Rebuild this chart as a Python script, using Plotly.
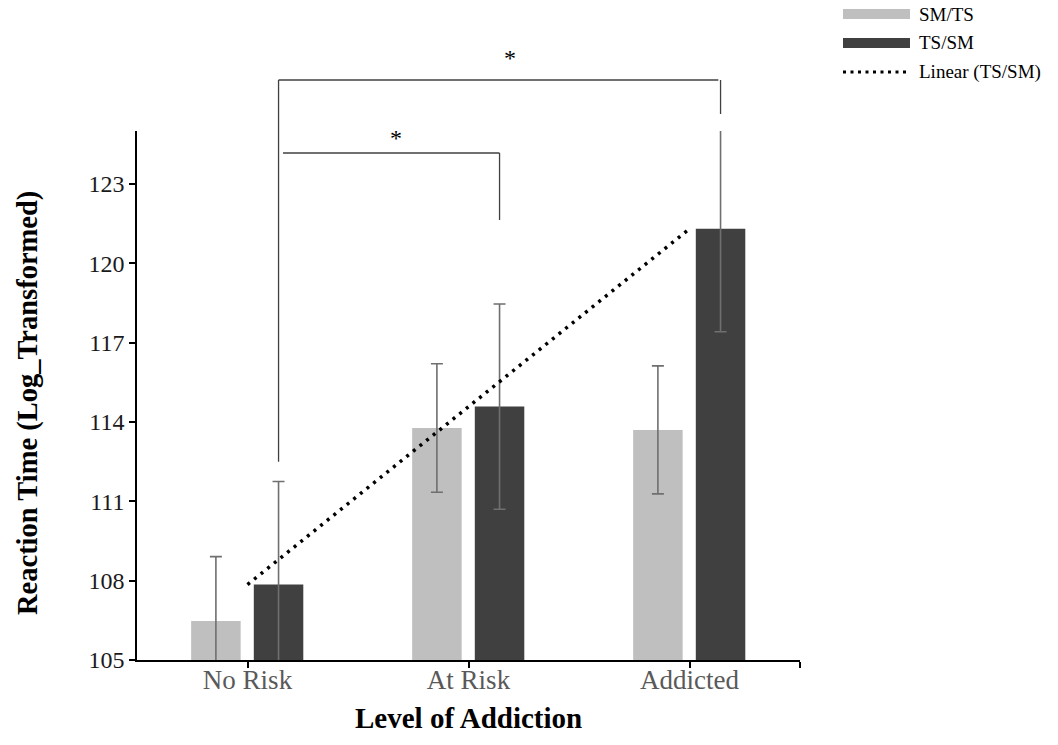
import numpy as np
import plotly.graph_objects as go

# ---------------- data ----------------
categories = ["No Risk", "At Risk", "Addicted"]
sm_ts = [106.47, 113.77, 113.70]
ts_sm = [107.85, 114.58, 121.30]
sm_ts_err = [2.44, 2.43, 2.42]
ts_sm_err = [3.90, 3.88, 3.89]
y_ticks = [105, 108, 111, 114, 117, 120, 123]
series_names = ["SM/TS", "TS/SM", "Linear (TS/SM)"]

# ---------------- geometry ----------------
W, H = 1058, 745
L, R, T, B = 137, 800, 131, 660
Y0, Y1 = 105, 125

def px_x(px):
    return (px - L) / (R - L)

def px_y(py):
    return (B - py) / (B - T)

def val_y(v):
    return (v - Y0) / (Y1 - Y0)

FONT = "Liberation Serif, Times New Roman, serif"
LIGHT = "#bfbfbf"
DARK = "#404040"
ERR = "#6f6f6f"

bar_w = 0.224
off_sm = -0.255
off_ts = 0.0285
ts_center = off_ts + bar_w / 2

xpos = list(range(len(categories)))

fig = go.Figure()
fig.add_trace(go.Bar(
    x=xpos, y=[v - Y0 for v in sm_ts], base=Y0, name=series_names[0],
    width=bar_w, offset=off_sm, marker=dict(color=LIGHT, line=dict(width=0)),
    error_y=dict(type="data", array=sm_ts_err, color=ERR, thickness=1.6, width=6),
    showlegend=False, hoverinfo="skip"))
fig.add_trace(go.Bar(
    x=xpos, y=[v - Y0 for v in ts_sm], base=Y0, name=series_names[1],
    width=bar_w, offset=off_ts, marker=dict(color=DARK, line=dict(width=0)),
    error_y=dict(type="data", array=ts_sm_err, color=ERR, thickness=1.6, width=6),
    showlegend=False, hoverinfo="skip"))

# linear trend of TS/SM
slope, intercept = np.polyfit(xpos, ts_sm, 1)
tx = [xpos[0], xpos[-1]]
ty = [intercept + slope * x for x in tx]
fig.add_trace(go.Scatter(
    x=tx, y=ty, mode="lines", name=series_names[2],
    line=dict(color="black", width=3.5, dash="3px,5.5px"),
    showlegend=False, hoverinfo="skip"))

shapes = []
annotations = []

# ---------------- significance brackets ----------------
BR = dict(color="#404040", width=1.3)
upper_y = px_y(80)
lower_y = px_y(153)
xl = 0 + ts_center
shapes.append(dict(type="line", xref="x", yref="paper", x0=xl, x1=xl,
                   y0=upper_y, y1=val_y(112.5), line=BR))
shapes.append(dict(type="line", xref="x", yref="paper", x0=xl, x1=2 + ts_center - 0.01,
                   y0=upper_y, y1=upper_y, line=BR))
shapes.append(dict(type="line", xref="x", yref="paper", x0=2 + ts_center, x1=2 + ts_center,
                   y0=upper_y, y1=px_y(114), line=BR))
shapes.append(dict(type="line", xref="x", yref="paper", x0=xl + 0.02, x1=1 + ts_center,
                   y0=lower_y, y1=lower_y, line=BR))
shapes.append(dict(type="line", xref="x", yref="paper", x0=1 + ts_center, x1=1 + ts_center,
                   y0=lower_y, y1=px_y(220), line=BR))
annotations.append(dict(text="*", xref="x", yref="paper", x=1.186, y=px_y(43),
                        showarrow=False, font=dict(family=FONT, size=24, color="#000000")))
annotations.append(dict(text="*", xref="x", yref="paper", x=0.67, y=px_y(123),
                        showarrow=False, font=dict(family=FONT, size=24, color="#000000")))

# ---------------- custom legend ----------------
leg_y = [14, 43, 72]
sw_x0, sw_x1 = 843, 910
shapes.append(dict(type="rect", xref="paper", yref="paper", x0=px_x(sw_x0), x1=px_x(sw_x1),
                   y0=px_y(leg_y[0] + 5), y1=px_y(leg_y[0] - 5), fillcolor=LIGHT,
                   line=dict(width=0)))
shapes.append(dict(type="rect", xref="paper", yref="paper", x0=px_x(sw_x0), x1=px_x(sw_x1),
                   y0=px_y(leg_y[1] + 5), y1=px_y(leg_y[1] - 5), fillcolor=DARK,
                   line=dict(width=0)))
shapes.append(dict(type="line", xref="paper", yref="paper", x0=px_x(sw_x0), x1=px_x(sw_x1),
                   y0=px_y(leg_y[2]), y1=px_y(leg_y[2]),
                   line=dict(color="black", width=3, dash="3px,4.5px")))
for name, yy in zip(series_names, leg_y):
    annotations.append(dict(text=name, xref="paper", yref="paper", x=px_x(917), y=px_y(yy),
                            xanchor="left", yanchor="middle", showarrow=False,
                            font=dict(family=FONT, size=19, color="black")))

# ---------------- axis titles ----------------
annotations.append(dict(text="<b>Level of Addiction</b>", xref="paper", yref="paper",
                        x=px_x(468), y=px_y(718), xanchor="center", yanchor="middle",
                        showarrow=False, font=dict(family=FONT, size=29, color="black")))
annotations.append(dict(text="<b>Reaction Time (Log_Transformed)</b>", xref="paper", yref="paper",
                        x=px_x(28), y=px_y(403), xanchor="center", yanchor="middle",
                        textangle=-90, showarrow=False,
                        font=dict(family=FONT, size=28.5, color="black")))

fig.update_layout(
    width=W, height=H,
    margin=dict(l=L, r=W - R, t=T, b=H - B, pad=0),
    paper_bgcolor="white", plot_bgcolor="white",
    barmode="overlay",
    shapes=shapes, annotations=annotations,
    showlegend=False,
    font=dict(family=FONT),
)
fig.update_xaxes(
    range=[-0.5, 2.5], tickvals=xpos + [2.5], ticktext=categories + [""],
    showline=True, linecolor="black", linewidth=1.5, ticks="outside", ticklen=6,
    tickcolor="black", tickwidth=1.5, showgrid=False, zeroline=False,
    tickfont=dict(family=FONT, size=27, color="#595959"), ticklabelstandoff=-11,
)
fig.update_yaxes(
    range=[Y0, Y1], tickvals=y_ticks, ticktext=[str(v) for v in y_ticks],
    showline=True, linecolor="black", linewidth=1.5, ticks="outside", ticklen=6,
    tickcolor="black", tickwidth=1.5, showgrid=False, zeroline=False,
    tickfont=dict(family=FONT, size=24, color="#1a1a1a"), ticklabelstandoff=0,
)

fig.write_html("out.html", config={"displayModeBar": False},
               post_script="document.body.style.margin='0px';")
